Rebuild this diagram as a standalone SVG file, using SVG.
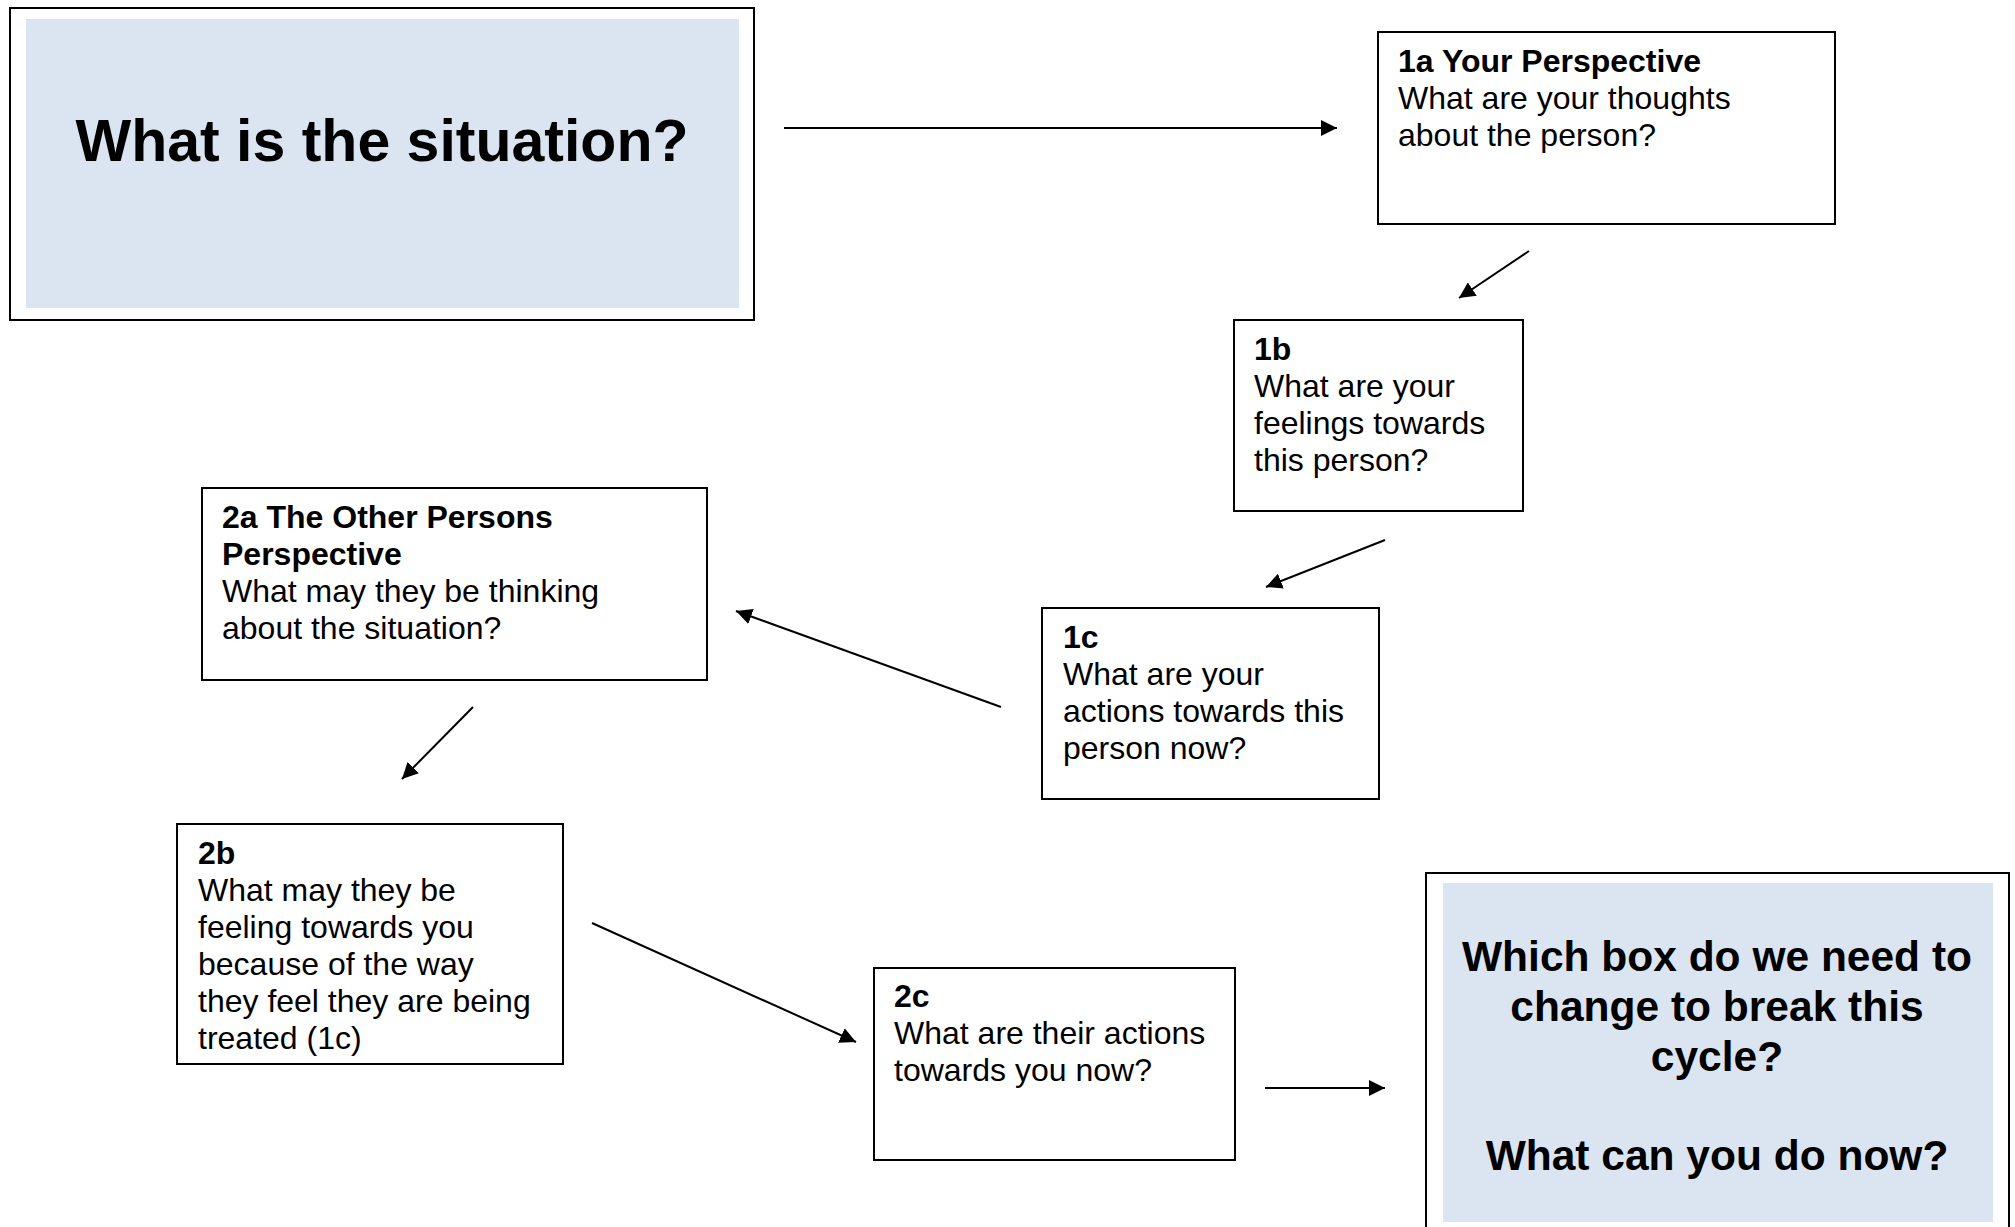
<svg xmlns="http://www.w3.org/2000/svg" width="2015" height="1227" viewBox="0 0 2015 1227">
<style>
.box{fill:#fff;stroke:#000;stroke-width:2}
.fill{fill:#dbe5f1;stroke:none}
.t{font-family:"Liberation Sans",Arial,sans-serif;font-size:32px;fill:#000}
.b{font-weight:bold}
.big{font-family:"Liberation Sans",Arial,sans-serif;font-weight:bold;fill:#000;text-anchor:middle}
.c{stroke:#000;stroke-width:2;fill:none;marker-end:url(#ah)}
</style>
<defs>
<marker id="ah" viewBox="0 0 16 16" refX="16" refY="8" markerWidth="16" markerHeight="16" markerUnits="userSpaceOnUse" orient="auto">
<path d="M0,0 L16,8 L0,16 Z" fill="#000"/>
</marker>
</defs>
<rect width="2015" height="1227" fill="#fff"/>
<g id="situation">
<rect class="box" x="10" y="8" width="744" height="312"/>
<rect class="fill" x="26" y="19" width="713" height="289"/>
<text class="big" x="382" y="161" font-size="59">What is the situation?</text>
</g>
<g id="n1a">
<rect class="box" x="1378" y="32" width="457" height="192"/>
<text class="t" x="1398" y="72"><tspan class="b">1a Your Perspective</tspan><tspan x="1398" dy="37">What are your thoughts</tspan><tspan x="1398" dy="37">about the person?</tspan></text>
</g>
<g id="n1b">
<rect class="box" x="1234" y="320" width="289" height="191"/>
<text class="t" x="1254" y="360"><tspan class="b">1b</tspan><tspan x="1254" dy="37">What are your</tspan><tspan x="1254" dy="37">feelings towards</tspan><tspan x="1254" dy="37">this person?</tspan></text>
</g>
<g id="n1c">
<rect class="box" x="1042" y="608" width="337" height="191"/>
<text class="t" x="1063" y="648"><tspan class="b">1c</tspan><tspan x="1063" dy="37">What are your</tspan><tspan x="1063" dy="37">actions towards this</tspan><tspan x="1063" dy="37">person now?</tspan></text>
</g>
<g id="n2a">
<rect class="box" x="202" y="488" width="505" height="192"/>
<text class="t" x="222" y="528"><tspan class="b">2a The Other Persons</tspan><tspan class="b" x="222" dy="37">Perspective</tspan><tspan x="222" dy="37">What may they be thinking</tspan><tspan x="222" dy="37">about the situation?</tspan></text>
</g>
<g id="n2b">
<rect class="box" x="177" y="824" width="386" height="240"/>
<text class="t" x="198" y="864"><tspan class="b">2b</tspan><tspan x="198" dy="37">What may they be</tspan><tspan x="198" dy="37">feeling towards you</tspan><tspan x="198" dy="37">because of the way</tspan><tspan x="198" dy="37">they feel they are being</tspan><tspan x="198" dy="37">treated (1c)</tspan></text>
</g>
<g id="n2c">
<rect class="box" x="874" y="968" width="361" height="192"/>
<text class="t" x="894" y="1007"><tspan class="b">2c</tspan><tspan x="894" dy="37">What are their actions</tspan><tspan x="894" dy="37">towards you now?</tspan></text>
</g>
<g id="final">
<rect class="box" x="1426" y="873" width="583" height="370"/>
<rect class="fill" x="1443" y="883" width="550" height="339"/>
<text class="big" x="1717" y="971" font-size="42.5"><tspan x="1717">Which box do we need to</tspan><tspan x="1717" dy="50">change to break this</tspan><tspan x="1717" dy="50">cycle?</tspan><tspan x="1717" dy="99">What can you do now?</tspan></text>
</g>
<g id="connectors">
<line class="c" x1="784" y1="128" x2="1337" y2="128"/>
<line class="c" x1="1529" y1="251" x2="1459" y2="298"/>
<line class="c" x1="1385" y1="540" x2="1266" y2="587"/>
<line class="c" x1="1001" y1="707" x2="736" y2="611"/>
<line class="c" x1="473" y1="707" x2="402" y2="779"/>
<line class="c" x1="592" y1="923" x2="856" y2="1042"/>
<line class="c" x1="1265" y1="1088" x2="1385" y2="1088"/>
</g>
</svg>
